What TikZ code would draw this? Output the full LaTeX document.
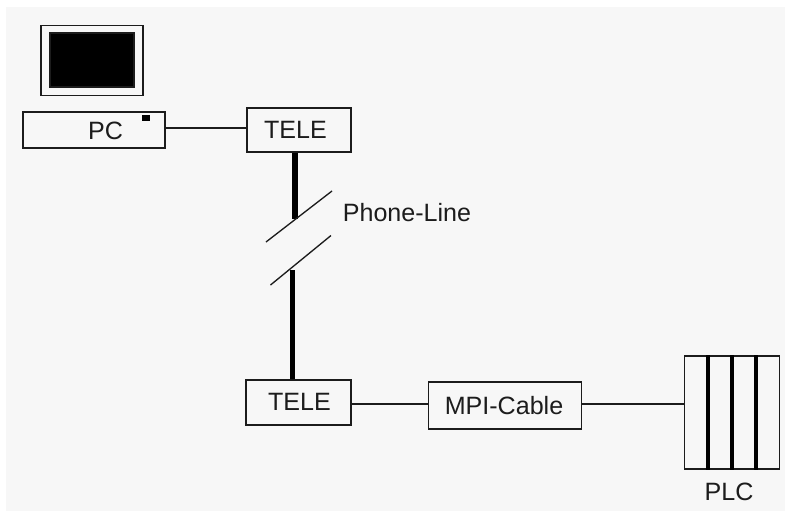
\documentclass[tikz,border=0pt]{standalone}
\usepackage{fontspec}
\setmainfont{Liberation Sans}
\definecolor{bgc}{HTML}{F7F7F7}
\definecolor{ink}{HTML}{1C1C1C}
\tikzset{
  x=0.75pt,y=-0.75pt,
  boxn/.style={draw=ink,line width=1.35pt,inner sep=0pt,fill=none},
  txt/.style={anchor=base,inner sep=0pt,text=ink,font=\fontsize{18.8}{18.8}\selectfont},
  wire/.style={draw=ink,line width=1.35pt},
  thickwire/.style={draw=black,line width=4pt},
  breakline/.style={draw=ink,line width=1pt},
  divider/.style={draw=black,line width=3pt}
}
\newcommand{\boxat}[5]{\node[boxn,minimum width=#4*0.75pt,minimum height=#5*0.75pt] (#1) at (#2,#3) {};}
\begin{document}
\begin{tikzpicture}
\useasboundingbox (0,0) rectangle (785,511);
\fill[white] (0,0) rectangle (785,511);
\fill[bgc] (6,7) rectangle (785,511);
% computer
\boxat{monitor}{92}{60.5}{102}{70}
\node[draw=ink,fill=black,line width=0.8pt,inner sep=0pt,minimum width=63pt,minimum height=40.5pt] (screen) at (92,60) {};
\boxat{pc}{94}{130}{142}{36}
\node[fill=black,inner sep=0pt,minimum width=6pt,minimum height=4.5pt] (led) at (146,118) {};
\boxat{teleA}{299}{130}{104}{44}
\boxat{teleB}{298.5}{402.5}{105}{45}
\boxat{mpi}{505}{405.5}{153}{47}
\boxat{plc}{732}{412.5}{95}{113}
% labels
\node[txt] (pct) at (105.5,139.5) {PC};
\node[txt] (teleAt) at (295.5,138.5) {TELE};
\node[txt] (teleBt) at (299.5,410) {TELE};
\node[txt] (mpit) at (504,414) {MPI-Cable};
\node[txt] (phone) at (407,221.5) {Phone-Line};
\node[txt] (plct) at (729,500) {PLC};
% wire levels and break points
\coordinate (upper) at (206,127.7);
\coordinate (lower) at (500,404);
\coordinate (bAa) at (266,242);
\coordinate (bAb) at (332,191);
\coordinate (bBa) at (270.5,285);
\coordinate (bBb) at (331,235.5);
\coordinate (thickA) at (295,219);
\coordinate (thickB) at (292.8,270);
% connectors
\draw[wire] (pc.east |- upper) -- (teleA.west |- upper);
\draw[wire] (teleB.east |- lower) -- (mpi.west |- lower);
\draw[wire] (mpi.east |- lower) -- (plc.west |- lower);
\draw[thickwire] (thickA |- teleA.south) -- (thickA);
\draw[thickwire] (thickB) -- (thickB |- teleB.north);
\draw[breakline] (bAa) -- (bAb);
\draw[breakline] (bBa) -- (bBb);
% PLC dividers
\foreach \n/\x in {a/708,b/732,c/756}{
  \coordinate (d\n) at (\x,400);
  \draw[divider] (d\n |- plc.north) -- (d\n |- plc.south);
}
\end{tikzpicture}
\end{document}
